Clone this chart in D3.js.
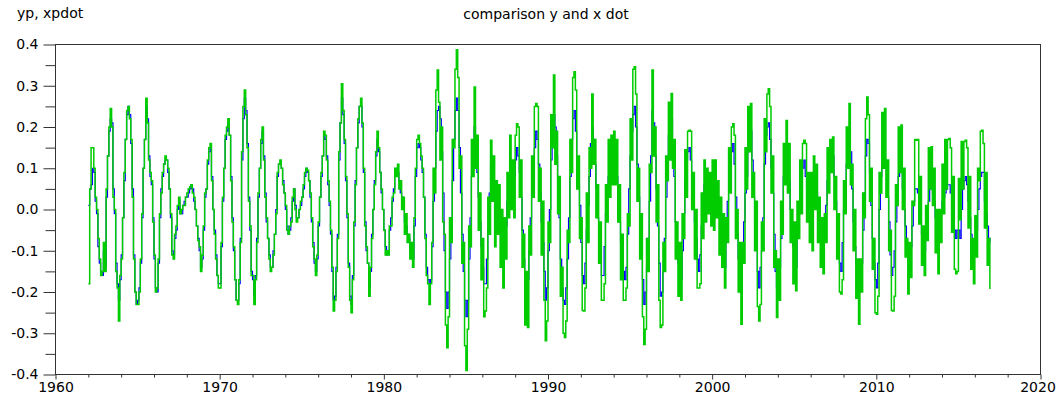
<!DOCTYPE html>
<html><head><meta charset="utf-8">
<script src="https://cdn.jsdelivr.net/npm/d3@7"></script>
<style>
html,body{margin:0;padding:0;background:#fff;}
svg{display:block;}
text{font-family:"DejaVu Sans",sans-serif;font-size:14px;fill:#000;}
</style>
</head><body>
<svg id="chart" width="1057" height="397"></svg>
<script>
const title = "comparison y and x dot";
const yLabel = "yp, xpdot";
const startYear = 1962;               // first monthly sample (January 1962)
const xTicks = [1960, 1970, 1980, 1990, 2000, 2010, 2020];
const xMinorTicks = [1962,1964,1966,1968,1972,1974,1976,1978,1982,1984,1986,1988,1992,1994,1996,1998,2002,2004,2006,2008,2012,2014,2016,2018];
const yTicks = [-0.4, -0.3, -0.2, -0.1, 0.0, 0.1, 0.2, 0.3, 0.4];
const yMinorTicks = [-0.35, -0.25, -0.15, -0.05, 0.05, 0.15, 0.25, 0.35];

// yp (blue), monthly, one row per year 1962..2016
const yp = [
 0.01, 0.05, 0.06, 0.10, 0.09, 0.02, -0.01, -0.09, -0.13, -0.15, -0.16, -0.10,
 -0.14, 0.03, 0.13, 0.19, 0.22, 0.21, 0.05, -0.01, -0.13, -0.18, -0.22, -0.17,
 -0.11, -0.02, 0.07, 0.17, 0.23, 0.25, 0.23, 0.16, 0.05, -0.11, -0.20, -0.23,
 -0.22, -0.19, -0.13, -0.02, 0.10, 0.17, 0.25, 0.22, 0.13, 0.08, 0.06, -0.02,
 -0.12, -0.19, -0.20, -0.13, -0.02, 0.05, 0.08, 0.11, 0.12, 0.12, 0.09, 0.05,
 -0.02, -0.10, -0.11, -0.07, -0.05, 0.00, 0.02, -0.01, -0.01, 0.01, 0.02, 0.03,
 0.03, 0.04, 0.05, 0.06, 0.05, 0.02, 0.00, -0.04, -0.07, -0.10, -0.14, -0.12,
 -0.05, 0.03, 0.05, 0.11, 0.14, 0.15, 0.08, 0.00, -0.05, -0.11, -0.16, -0.18,
 -0.18, -0.09, 0.02, 0.10, 0.17, 0.19, 0.21, 0.18, 0.08, -0.02, -0.10, -0.17,
 -0.22, -0.22, -0.18, -0.07, 0.12, 0.22, 0.27, 0.24, 0.16, 0.03, -0.05, -0.15,
 -0.17, -0.21, -0.16, -0.07, 0.03, 0.10, 0.16, 0.19, 0.13, 0.04, -0.03, -0.07,
 -0.11, -0.14, -0.14, -0.10, -0.06, 0.00, 0.08, 0.11, 0.11, 0.10, 0.07, 0.04,
 0.00, -0.04, -0.06, -0.05, -0.02, 0.02, 0.05, 0.01, -0.02, -0.02, 0.00, 0.01,
 0.03, 0.05, 0.08, 0.10, 0.09, 0.07, 0.03, -0.03, -0.08, -0.13, -0.15, -0.12,
 -0.04, 0.03, 0.08, 0.13, 0.18, 0.17, 0.13, 0.06, 0.01, -0.06, -0.15, -0.22,
 -0.21, -0.14, -0.06, 0.12, 0.21, 0.27, 0.23, 0.16, 0.07, -0.02, -0.13, -0.21,
 -0.23, -0.16, -0.04, 0.07, 0.15, 0.21, 0.25, 0.25, 0.20, 0.09, -0.03, -0.10,
 -0.13, -0.19, -0.15, -0.06, 0.00, 0.07, 0.13, 0.17, 0.14, 0.09, 0.04, 0.00,
 -0.05, -0.09, -0.11, -0.10, -0.05, -0.02, 0.02, 0.05, 0.08, 0.10, 0.09, 0.07,
 0.04, 0.03, 0.00, -0.03, -0.04, -0.06, -0.07, -0.10, -0.11, -0.12, -0.04, 0.08,
 0.15, 0.16, 0.15, 0.12, 0.09, 0.03, -0.06, -0.14, -0.17, -0.18, -0.17, -0.09,
 0.02, 0.10, 0.19, 0.24, 0.25, 0.22, 0.14, 0.04, -0.10, -0.20, -0.24, -0.20,
 -0.12, -0.02, 0.07, 0.17, 0.24, 0.27, 0.24, 0.15, 0.04, -0.06, -0.15, -0.22,
 -0.26, -0.22, -0.12, -0.02, 0.08, 0.16, 0.20, 0.16, 0.09, 0.03, -0.03, -0.09,
 -0.14, -0.18, -0.18, -0.12, -0.05, 0.04, 0.11, 0.09, 0.04, 0.00, 0.01, 0.02,
 -0.02, -0.06, -0.10, -0.12, -0.09, -0.04, 0.02, 0.06, 0.08, 0.08, 0.07, 0.08,
 0.12, 0.15, 0.13, 0.09, 0.03, -0.05, -0.12, -0.18, -0.21, -0.17, -0.10, -0.02,
 0.05, 0.10, 0.15, 0.19, 0.17, 0.11, 0.04, -0.03, -0.08, -0.15, -0.22, -0.19,
 -0.10, 0.00, 0.12, 0.20, 0.23, 0.20, 0.13, 0.06, -0.02, -0.12, -0.19, -0.22,
 -0.23, -0.19, -0.12, -0.02, 0.08, 0.17, 0.22, 0.24, 0.19, 0.12, 0.06, 0.01,
 -0.08, -0.16, -0.18, -0.13, -0.05, 0.01, 0.08, 0.16, 0.20, 0.17, 0.11, 0.05,
 -0.02, -0.06, -0.12, -0.16, -0.16, -0.09, -0.01, 0.05, 0.08, 0.10, 0.12, 0.14,
 0.15, 0.13, 0.08, 0.03, -0.03, -0.08, -0.12, -0.15, -0.17, -0.14, -0.06, 0.05,
 0.13, 0.19, 0.23, 0.25, 0.20, 0.11, 0.03, -0.04, -0.10, -0.17, -0.23, -0.20,
 -0.14, -0.07, 0.02, 0.13, 0.24, 0.21, 0.13, 0.05, -0.04, -0.13, -0.21, -0.20,
 -0.15, -0.07, 0.03, 0.12, 0.18, 0.21, 0.22, 0.16, 0.08, -0.03, -0.09, -0.13,
 -0.15, -0.17, -0.10, -0.01, 0.07, 0.12, 0.14, 0.15, 0.12, 0.07, 0.02, -0.03,
 -0.07, -0.12, -0.15, -0.11, -0.04, 0.03, 0.06, 0.05, 0.03, 0.05, 0.04, 0.04,
 0.05, 0.04, 0.06, 0.03, 0.00, -0.02, -0.04, -0.07, -0.10, -0.14, -0.08, 0.02,
 0.07, 0.11, 0.14, 0.16, 0.11, 0.03, -0.06, -0.12, -0.16, -0.20, -0.13, -0.03,
 0.04, 0.08, 0.14, 0.18, 0.19, 0.12, 0.03, -0.03, -0.07, -0.15, -0.19, -0.14,
 -0.10, -0.02, 0.11, 0.18, 0.20, 0.21, 0.17, 0.10, 0.04, -0.06, -0.15, -0.19,
 -0.18, -0.14, -0.07, 0.00, 0.08, 0.13, 0.15, 0.11, 0.07, 0.00, -0.06, -0.09,
 -0.11, -0.14, -0.07, -0.01, 0.05, 0.08, 0.10, 0.12, 0.08, 0.05, 0.03, 0.01,
 0.01, 0.00, 0.03, 0.05, 0.04, 0.01, -0.03, -0.07, -0.11, -0.12, -0.07, 0.01,
 0.07, 0.10, 0.12, 0.13, 0.13, 0.08, 0.02, -0.05, -0.10, -0.13, -0.15, -0.08,
 0.00, 0.06, 0.11, 0.15, 0.17, 0.14, 0.05, -0.03, -0.09, -0.13, -0.16, -0.19,
 -0.18, -0.13, -0.05, 0.04, 0.13, 0.17, 0.16, 0.09, 0.01, -0.07, -0.13, -0.17,
 -0.19, -0.13, 0.00, 0.08, 0.11, 0.13, 0.12, 0.10, 0.03, -0.03, -0.11, -0.16,
 -0.14, -0.10, -0.03, 0.04, 0.08, 0.10, 0.09, 0.05, 0.00, -0.04, -0.08, -0.10,
 -0.11, -0.09, -0.04, 0.02, 0.05, 0.05, 0.04, 0.01, -0.03, -0.06, -0.09, -0.10,
 -0.05, -0.02, 0.02, 0.05, 0.05, 0.04, 0.02, -0.02, -0.05, -0.07, -0.04, 0.00,
 0.02, 0.03, 0.04, 0.05, 0.06, 0.06, 0.04, 0.00, -0.03, -0.05, -0.07, -0.05,
 -0.05, -0.07, 0.00, 0.05, 0.07, 0.08, 0.06, 0.02, -0.02, -0.06, -0.09, -0.10,
 -0.08, -0.05, 0.00, 0.05, 0.08, 0.09, 0.09, 0.02, -0.01, -0.04, -0.07, -0.08
];

// xpdot (green), monthly, one row per year 1962..2016
const xpdot = [
 -0.18, 0.05, 0.15, 0.15, 0.10, 0.03, 0.00, -0.07, -0.12, -0.16, -0.15, -0.08,
 -0.15, 0.05, 0.13, 0.20, 0.245, 0.20, 0.03, 0.00, -0.15, -0.19, -0.27, -0.16,
 -0.12, -0.02, 0.09, 0.17, 0.24, 0.25, 0.22, 0.17, 0.03, -0.12, -0.20, -0.23,
 -0.23, -0.20, -0.12, -0.01, 0.10, 0.17, 0.27, 0.21, 0.12, 0.09, 0.07, -0.03,
 -0.11, -0.20, -0.19, -0.12, -0.01, 0.04, 0.09, 0.11, 0.13, 0.12, 0.10, 0.05,
 -0.01, -0.11, -0.12, -0.06, -0.04, 0.01, 0.03, -0.01, 0.00, 0.01, 0.01, 0.03,
 0.04, 0.05, 0.055, 0.06, 0.04, 0.03, 0.00, -0.04, -0.075, -0.09, -0.15, -0.11,
 -0.04, 0.04, 0.05, 0.12, 0.15, 0.16, 0.07, 0.00, -0.06, -0.12, -0.16, -0.19,
 -0.19, -0.08, 0.03, 0.10, 0.18, 0.20, 0.22, 0.18, 0.07, -0.03, -0.09, -0.17,
 -0.22, -0.23, -0.17, -0.08, 0.14, 0.25, 0.29, 0.23, 0.15, 0.02, -0.04, -0.16,
 -0.16, -0.23, -0.17, -0.08, 0.04, 0.10, 0.17, 0.20, 0.12, 0.03, -0.02, -0.07,
 -0.12, -0.15, -0.14, -0.11, -0.06, -0.01, 0.09, 0.11, 0.12, 0.10, 0.06, 0.04,
 0.01, -0.05, -0.06, -0.04, -0.03, 0.03, 0.05, 0.00, -0.03, -0.02, 0.00, 0.02,
 0.03, 0.06, 0.09, 0.10, 0.095, 0.07, 0.04, -0.02, -0.09, -0.12, -0.16, -0.11,
 -0.03, 0.03, 0.09, 0.13, 0.19, 0.18, 0.12, 0.07, 0.02, -0.05, -0.14, -0.246,
 -0.22, -0.15, -0.07, 0.14, 0.21, 0.305, 0.24, 0.17, 0.08, -0.01, -0.14, -0.22,
 -0.25, -0.17, -0.03, 0.06, 0.15, 0.22, 0.25, 0.27, 0.21, 0.10, -0.04, -0.09,
 -0.13, -0.21, -0.14, -0.07, 0.00, 0.06, 0.14, 0.19, 0.15, 0.09, 0.05, 0.00,
 -0.05, -0.11, -0.10, -0.11, -0.04, -0.04, 0.03, 0.04, 0.10, 0.08, 0.11, 0.05,
 0.07, 0.00, 0.03, -0.06, -0.01, -0.08, -0.06, -0.12, -0.08, -0.14, -0.02, 0.10,
 0.17, 0.18, 0.16, 0.13, 0.10, 0.03, -0.07, -0.16, -0.18, -0.23, -0.18, -0.08,
 0.10, 0.04, 0.29, 0.338, 0.26, 0.12, 0.20, -0.03, -0.06, -0.28, -0.335, -0.26,
 -0.02, -0.08, 0.17, 0.15, 0.34, 0.387, 0.32, 0.10, 0.13, -0.13, -0.08, -0.33,
 -0.39, -0.29, -0.04, -0.09, 0.17, 0.08, 0.297, 0.10, 0.18, -0.05, 0.04, -0.17,
 -0.07, -0.26, -0.246, -0.19, 0.03, -0.06, 0.168, 0.02, 0.13, -0.09, 0.07, -0.06,
 0.06, -0.14, 0.00, -0.19, -0.02, -0.12, 0.09, -0.02, 0.18, 0.00, 0.12, -0.02,
 0.18, 0.208, 0.20, 0.03, 0.12, -0.14, -0.06, -0.28, -0.15, -0.286, -0.04, -0.11,
 0.13, 0.03, 0.25, 0.257, 0.25, 0.02, 0.10, -0.11, 0.02, -0.22, -0.318, -0.27,
 -0.03, -0.08, 0.23, 0.15, 0.326, 0.11, 0.19, -0.01, 0.08, -0.21, -0.14, -0.30,
 -0.31, -0.27, -0.05, -0.08, 0.17, 0.09, 0.32, 0.334, 0.29, 0.05, 0.13, -0.07,
 -0.02, -0.245, -0.246, -0.19, 0.04, -0.08, 0.15, 0.10, 0.28, 0.11, 0.17, -0.02,
 0.06, -0.13, -0.03, -0.22, -0.22, -0.18, 0.06, -0.03, 0.17, 0.03, 0.18, 0.06,
 0.19, 0.06, 0.17, -0.03, 0.06, -0.17, -0.06, -0.22, -0.22, -0.19, -0.01, -0.04,
 0.22, 0.12, 0.34, 0.346, 0.28, 0.02, 0.10, -0.12, -0.01, -0.26, -0.327, -0.29,
 -0.07, -0.15, 0.11, 0.09, 0.338, 0.13, 0.20, -0.03, 0.06, -0.22, -0.286, -0.28,
 -0.08, -0.15, 0.13, 0.07, 0.26, 0.12, 0.281, 0.10, 0.17, -0.12, -0.03, -0.21,
 -0.08, -0.22, -0.01, -0.07, 0.145, 0.03, 0.19, 0.192, 0.19, 0.00, 0.09, -0.12,
 0.00, -0.19, -0.19, -0.18, 0.04, -0.07, 0.12, -0.03, 0.10, -0.01, 0.09, -0.04,
 0.12, -0.05, 0.12, -0.02, 0.07, -0.11, 0.03, -0.14, -0.01, -0.19, -0.02, -0.08,
 0.15, 0.04, 0.20, 0.208, 0.18, -0.07, 0.00, -0.20, -0.08, -0.278, -0.08, -0.13,
 0.15, 0.05, 0.25, 0.14, 0.257, 0.03, 0.09, -0.10, 0.02, -0.235, -0.27, -0.23,
 -0.03, -0.10, 0.22, 0.14, 0.28, 0.293, 0.25, 0.04, 0.13, -0.14, -0.10, -0.262,
 -0.12, -0.22, 0.02, -0.06, 0.16, 0.06, 0.216, 0.04, 0.16, -0.08, 0.00, -0.18,
 -0.03, -0.197, 0.02, -0.07, 0.12, -0.01, 0.16, 0.168, 0.16, -0.03, 0.09, -0.08,
 0.09, -0.10, 0.13, 0.00, 0.11, -0.08, 0.03, -0.14, -0.02, -0.156, -0.01, -0.08,
 0.15, 0.04, 0.17, 0.09, 0.176, 0.00, 0.08, -0.12, -0.01, -0.20, -0.205, -0.17,
 0.07, -0.01, 0.20, 0.10, 0.257, 0.06, 0.11, -0.10, 0.00, -0.215, -0.12, -0.278,
 -0.12, -0.20, 0.04, -0.02, 0.22, 0.273, 0.23, 0.02, 0.10, -0.145, -0.07, -0.25,
 -0.254, -0.21, 0.09, 0.04, 0.235, 0.10, 0.245, 0.03, 0.12, -0.10, -0.05, -0.245,
 -0.246, -0.21, 0.06, 0.01, 0.20, 0.09, 0.205, 0.00, 0.10, -0.115, -0.07, -0.205,
 -0.08, -0.165, 0.02, 0.01, 0.17, 0.168, 0.17, -0.035, 0.08, -0.135, -0.04, -0.16,
 0.01, -0.075, 0.15, 0.05, 0.152, 0.01, 0.10, -0.105, 0.00, -0.156, 0.00, -0.08,
 0.11, -0.01, 0.17, 0.05, 0.17, 0.172, 0.15, -0.055, 0.08, -0.145, -0.156, -0.15,
 0.075, -0.025, 0.165, 0.05, 0.165, 0.168, 0.15, -0.045, 0.08, -0.145, -0.07, -0.18,
 -0.015, -0.115, 0.10, 0.07, 0.19, 0.192, 0.16, -0.045, 0.09, -0.135, -0.07, -0.193
];

const svg = d3.select("#chart");
const x = d3.scaleLinear().domain([1960, 2020]).range([55.5, 1040.5]);
const y = d3.scaleLinear().domain([-0.4, 0.4]).range([374.5, 44.5]);
const axisColor = "#333";

// data lines
const line = d3.line()
  .x((d, i) => x(startYear + i / 12))
  .y(d => y(d))
  .curve(d3.curveStepAfter);

svg.append("path").datum(yp)
  .attr("d", line).attr("fill", "none").attr("stroke", "#0000ff")
  .attr("stroke-width", 1.2);
svg.append("path").datum(xpdot)
  .attr("d", line).attr("fill", "none").attr("stroke", "#00cc00")
  .attr("stroke-width", 1.5);

// frame
svg.append("rect")
  .attr("x", 55.5).attr("y", 44.5).attr("width", 985).attr("height", 330)
  .attr("fill", "none").attr("stroke", axisColor).attr("stroke-width", 1);

function styleAxis(g, size) {
  g.select(".domain").remove();
  g.selectAll("line").attr("stroke", axisColor);
  g.selectAll("text").attr("font-family", "DejaVu Sans, sans-serif")
    .attr("font-size", size).attr("fill", "#000");
  g.attr("font-size", null).attr("font-family", null);
}

// y axis
svg.append("g").attr("transform", "translate(55.5,0)")
  .call(d3.axisLeft(y).tickValues(yTicks).tickSize(12).tickPadding(5)
    .tickFormat(d => d.toFixed(1)))
  .call(styleAxis, 14);
svg.append("g").attr("transform", "translate(55.5,0)")
  .call(d3.axisLeft(y).tickValues(yMinorTicks).tickSize(10).tickFormat(""))
  .call(styleAxis, 14);

// x axis
const gx = svg.append("g").attr("transform", "translate(0,374.5)")
  .call(d3.axisBottom(x).tickValues(xTicks).tickSize(5).tickPadding(3)
    .tickFormat(d3.format("d")))
  .call(styleAxis, 13);
gx.selectAll(".tick text").filter(d => d === 2020).attr("dx", -3);
svg.append("g").attr("transform", "translate(0,374.5)")
  .call(d3.axisBottom(x).tickValues(xMinorTicks).tickSize(3).tickFormat(""))
  .call(styleAxis, 13);

// titles
svg.append("text").attr("x", 546).attr("y", 19).attr("text-anchor", "middle").text(title);
svg.append("text").attr("x", 17).attr("y", 18).text(yLabel);
</script>
</body></html>
